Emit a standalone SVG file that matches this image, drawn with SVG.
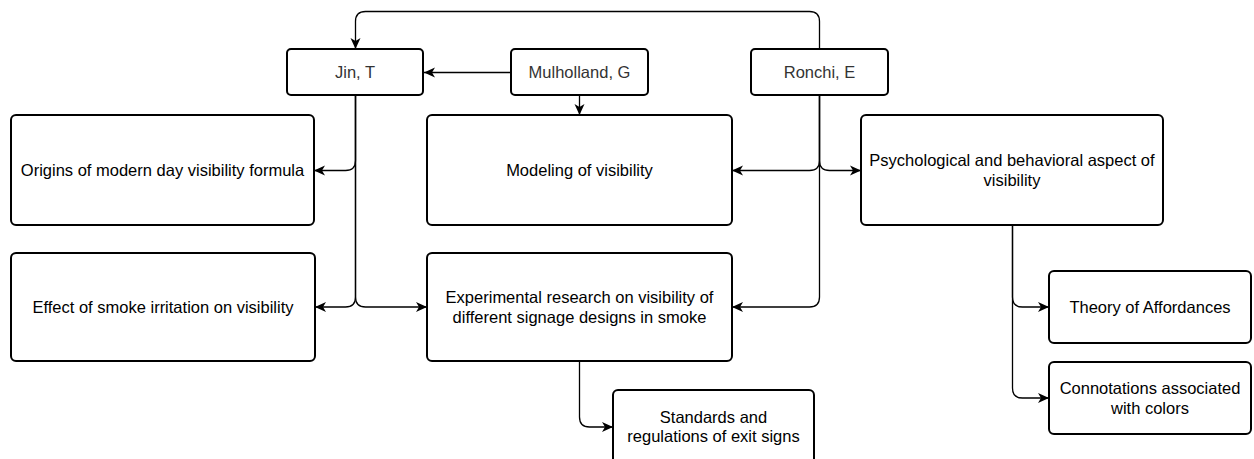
<svg xmlns="http://www.w3.org/2000/svg" width="1254" height="459" viewBox="0 0 1254 459">
<defs>
<marker id="arr" markerUnits="userSpaceOnUse" markerWidth="14" markerHeight="14" refX="11" refY="5.5" orient="auto">
<path d="M0,0.5 L11,5.5 L0,10.5 L3,5.5 Z" fill="#000"/>
</marker>
<style>
.box{fill:#fff;stroke:#000;stroke-width:2}
.lbl{font-family:"Liberation Sans",Arial,sans-serif;font-size:16.5px;fill:#000;text-anchor:middle}
.top{fill:#333}
.edge{fill:none;stroke:#000;stroke-width:1.3;marker-end:url(#arr)}
</style>
</defs>
<rect width="1254" height="459" fill="#fff"/>
<g id="connectors">
<path class="edge" d="M819.5,49 L819.5,21.5 Q819.5,11.5 809.5,11.5 L365.5,11.5 Q355.5,11.5 355.5,21.5 L355.5,49"/>
<path class="edge" d="M511,72.5 L424,72.5"/>
<path class="edge" d="M579.5,95 L579.5,115"/>
<path class="edge" d="M355.5,95 L355.5,160.5 Q355.5,170.5 345.5,170.5 L314,170.5"/>
<path class="edge" d="M355.5,95 L355.5,297 Q355.5,307 345.5,307 L315,307"/>
<path class="edge" d="M355.5,95 L355.5,297 Q355.5,307 365.5,307 L427,307"/>
<path class="edge" d="M819.5,95 L819.5,160.5 Q819.5,170.5 809.5,170.5 L732,170.5"/>
<path class="edge" d="M819.5,95 L819.5,160.5 Q819.5,170.5 829.5,170.5 L861,170.5"/>
<path class="edge" d="M819.5,95 L819.5,297 Q819.5,307 809.5,307 L732,307"/>
<path class="edge" d="M579.5,361 L579.5,417 Q579.5,427 589.5,427 L613,427"/>
<path class="edge" d="M1012.5,225 L1012.5,297 Q1012.5,307 1022.5,307 L1049,307"/>
<path class="edge" d="M1012.5,225 L1012.5,388 Q1012.5,398 1022.5,398 L1049,398"/>
</g>
<g id="jin"><rect class="box" x="287" y="49" width="136" height="46" rx="4"/><text class="lbl top" x="355" y="78">Jin, T</text></g>
<g id="mulholland"><rect class="box" x="511" y="49" width="137" height="46" rx="4"/><text class="lbl top" x="579.5" y="78">Mulholland, G</text></g>
<g id="ronchi"><rect class="box" x="751" y="49" width="137" height="46" rx="4"/><text class="lbl top" x="819.5" y="78">Ronchi, E</text></g>
<g id="origins"><rect class="box" x="11" y="115" width="303" height="110" rx="5"/><text class="lbl" x="162.5" y="176">Origins of modern day visibility formula</text></g>
<g id="modeling"><rect class="box" x="427" y="115" width="305" height="110" rx="5"/><text class="lbl" x="579.5" y="176">Modeling of visibility</text></g>
<g id="psych"><rect class="box" x="861" y="115" width="302" height="110" rx="5"/><text class="lbl" x="1012" y="166">Psychological and behavioral aspect of</text><text class="lbl" x="1012" y="186">visibility</text></g>
<g id="effect"><rect class="box" x="11" y="253" width="304" height="108" rx="5"/><text class="lbl" x="163" y="313">Effect of smoke irritation on visibility</text></g>
<g id="experimental"><rect class="box" x="427" y="253" width="305" height="108" rx="5"/><text class="lbl" x="579.5" y="303">Experimental research on visibility of</text><text class="lbl" x="579.5" y="323">different signage designs in smoke</text></g>
<g id="standards"><rect class="box" x="613" y="390" width="201" height="76" rx="5"/><text class="lbl" x="713.5" y="423">Standards and</text><text class="lbl" x="713.5" y="442">regulations of exit signs</text></g>
<g id="theory"><rect class="box" x="1049" y="271" width="202" height="72" rx="5"/><text class="lbl" x="1150" y="313">Theory of Affordances</text></g>
<g id="connotations"><rect class="box" x="1049" y="362" width="202" height="72" rx="5"/><text class="lbl" x="1150" y="394">Connotations associated</text><text class="lbl" x="1150" y="414">with colors</text></g>
</svg>
